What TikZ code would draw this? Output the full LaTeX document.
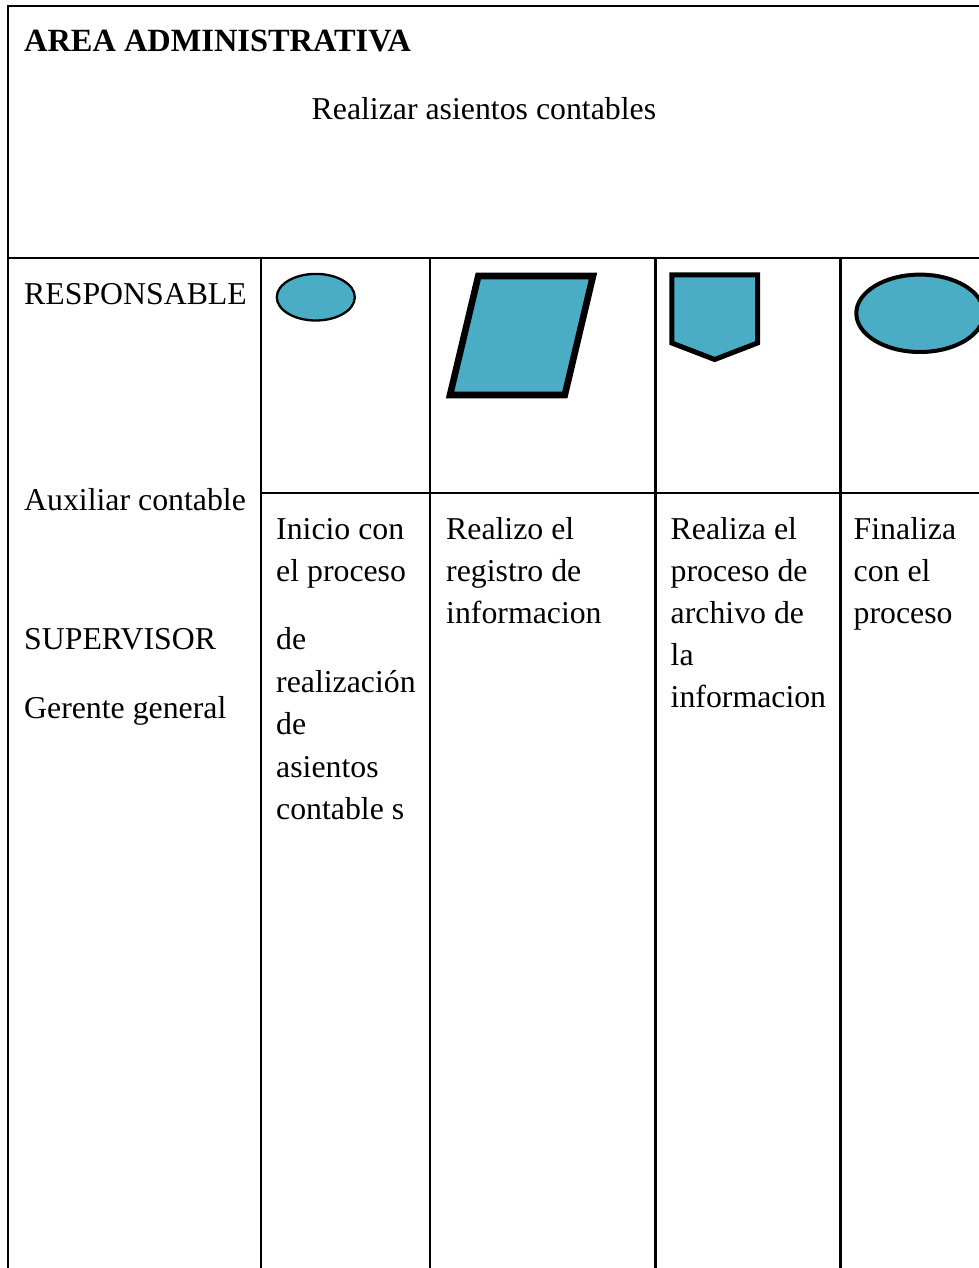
\documentclass[tikz,border=0pt]{standalone}
\usepackage{fontspec}
\setmainfont{Liberation Serif}
\definecolor{accent}{HTML}{4BACC6}
\begin{document}
\begin{tikzpicture}[x=1pt,y=-1pt,
  txt/.style={anchor=base west, inner sep=0pt, font=\fontsize{31.8}{38}\selectfont},
  grid/.style={line width=2.2pt},
  sym/.style={fill=accent, draw=black}]
\useasboundingbox (0,0) rectangle (979,1268);
\clip (0,0) rectangle (979,1268);
\fill[white] (0,0) rectangle (979,1268);
% table
\draw[grid] (990,6) -- (8,6) -- (8,1280);
\draw[grid] (8,258.3) -- (990,258.3);
\draw[grid] (261,258.3) -- (261,1280);
\draw[grid] (430,258.3) -- (430,1280);
\draw[grid] (655.5,258.3) -- (655.5,1280);
\draw[grid] (840.5,258.3) -- (840.5,1280);
\draw[grid] (261,493.3) -- (990,493.3);
% header
\node[txt, font=\fontsize{32.4}{38}\selectfont\bfseries] (area) at (24,52) {AREA ADMINISTRATIVA};
\node[txt] (titulo) at (311.5,120) {Realizar asientos contables};
% left column
\node[txt] (resp) at (24,304) {RESPONSABLE};
\node[txt] (aux) at (24,510.5) {Auxiliar contable};
\node[txt] (sup) at (24,649.5) {SUPERVISOR};
\node[txt] (ger) at (24,718.5) {Gerente general};
% symbols
\draw[sym, line width=2.3pt] (315.8,297.2) ellipse [x radius=39, y radius=23.3];
\draw[sym, line width=6.6pt, line join=miter] (478.3,276) -- (593,276) -- (564.8,395) -- (450,395) -- cycle;
\draw[sym, line width=5pt, line join=miter] (671.8,274.8) -- (757.5,274.8) -- (757.5,343) -- (714.7,359.5) -- (671.8,343) -- cycle;
\draw[sym, line width=4pt] (920,313.3) ellipse [x radius=63.7, y radius=38.7];
% column 1
\node[txt] (c1a) at (276,539.5) {Inicio con};
\node[txt] (c1b) at (276,581.5) {el proceso};
\node[txt] (c1c) at (276,649.5) {de};
\node[txt] (c1d) at (276,692.5) {realización};
\node[txt] (c1e) at (276,734.5) {de};
\node[txt] (c1f) at (276,777.5) {asientos};
\node[txt] (c1g) at (276,819.5) {contable s};
% column 2
\node[txt] (c2a) at (446,539) {Realizo el};
\node[txt] (c2b) at (446,581) {registro de};
\node[txt] (c2c) at (446,623) {informacion};
% column 3
\node[txt] (c3a) at (670.5,539) {Realiza el};
\node[txt] (c3b) at (670.5,581) {proceso de};
\node[txt] (c3c) at (670.5,623) {archivo de};
\node[txt] (c3d) at (670.5,665) {la};
\node[txt] (c3e) at (670.5,707) {informacion};
% column 4
\node[txt] (c4a) at (853.5,539) {Finaliza};
\node[txt] (c4b) at (853.5,581) {con el};
\node[txt] (c4c) at (853.5,623) {proceso};
\end{tikzpicture}
\end{document}
